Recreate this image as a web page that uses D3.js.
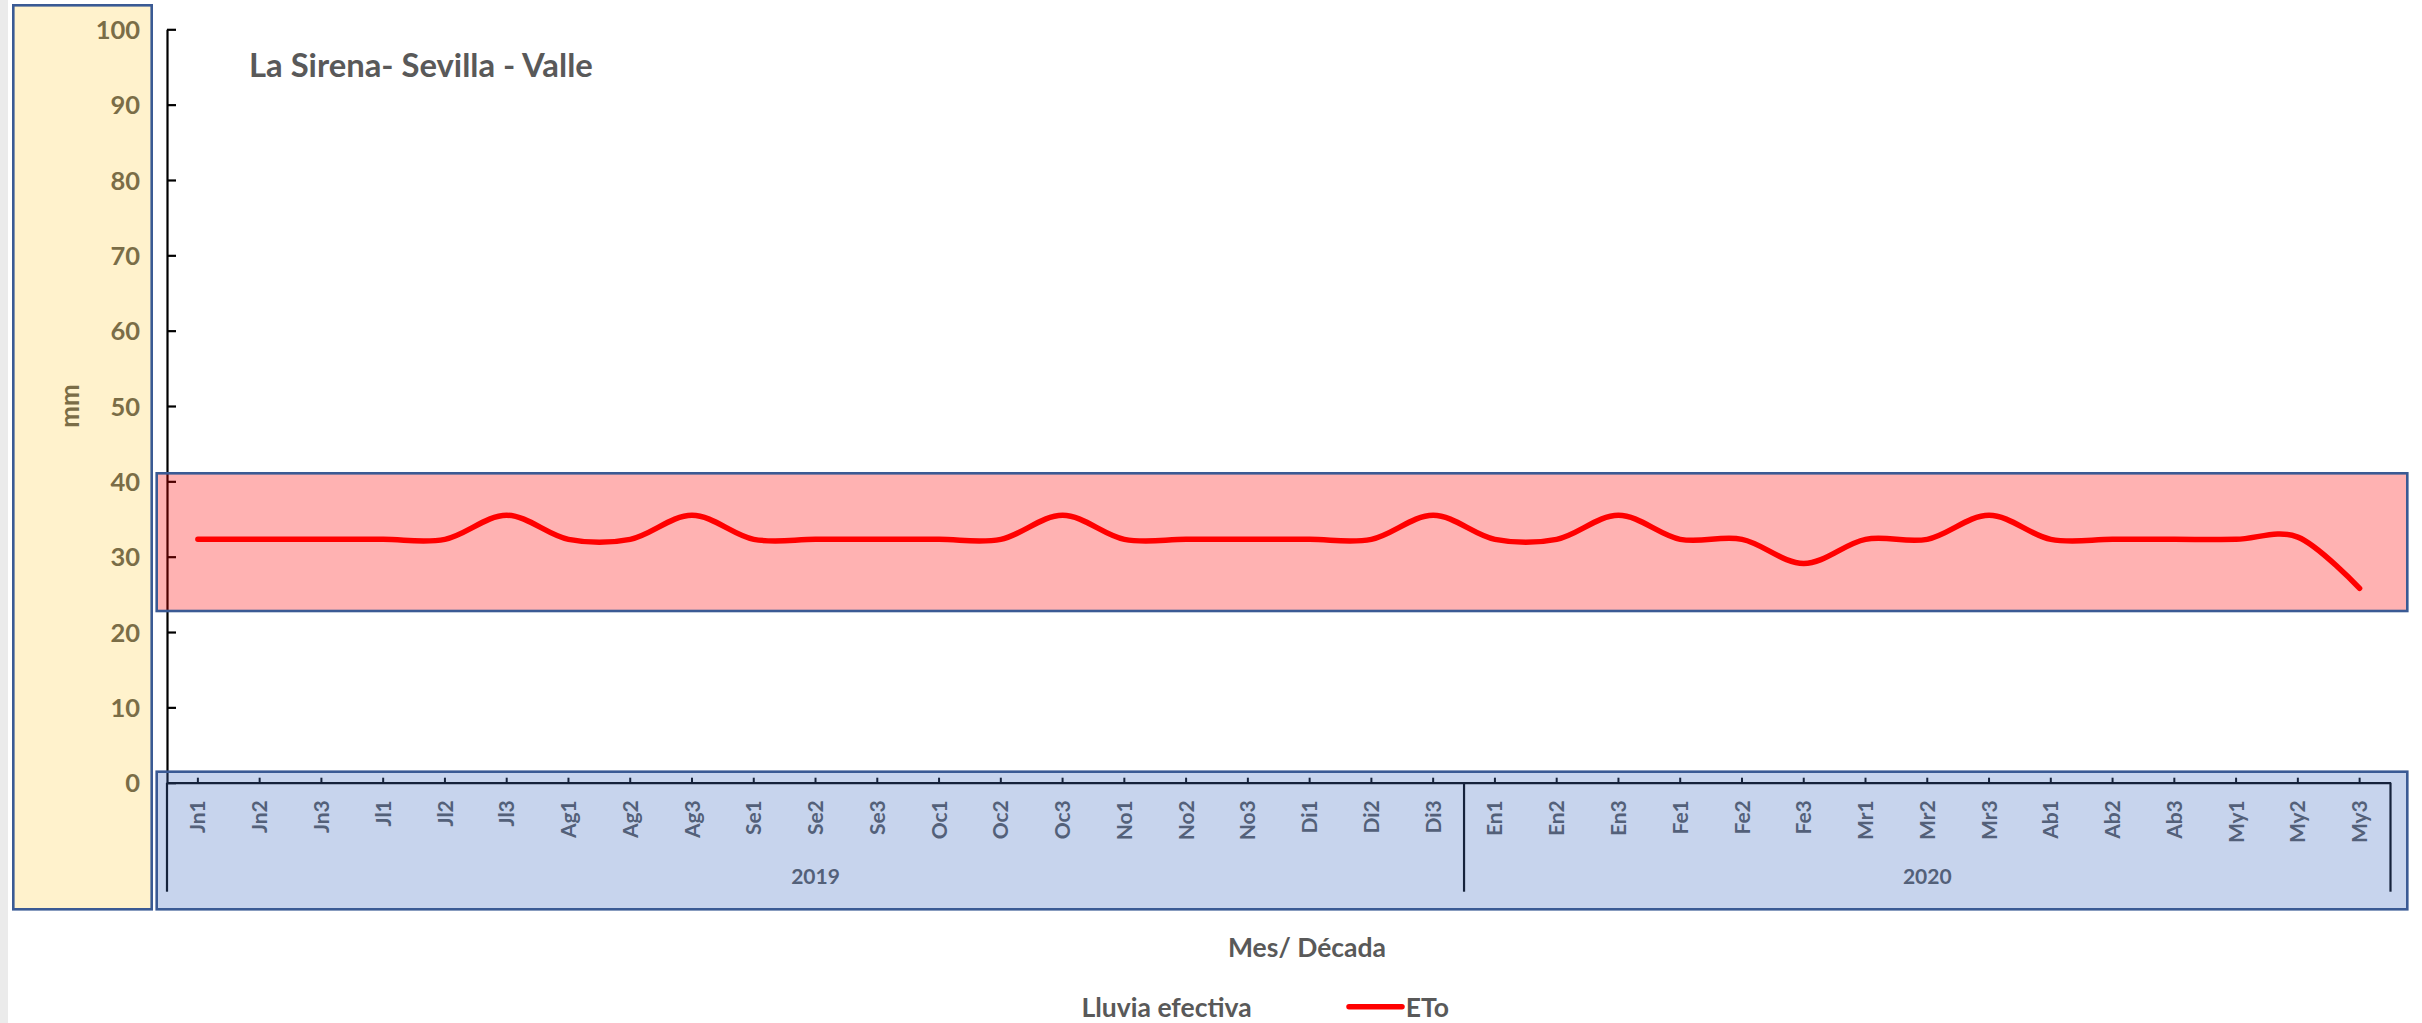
<!DOCTYPE html>
<html>
<head>
<meta charset="utf-8">
<script src="https://cdn.jsdelivr.net/npm/d3@7"></script>
<style>
  html, body { margin: 0; padding: 0; background: #ffffff; }
  svg { display: block; }
  text { font-family: Lato, "Open Sans", sans-serif; font-weight: 700; }
</style>
</head>
<body>
<svg id="chart" width="2422" height="1023"></svg>
<script>
// Decades (month code + decade number) on the category axis
const categories = ["Jn1","Jn2","Jn3","Jl1","Jl2","Jl3","Ag1","Ag2","Ag3","Se1","Se2","Se3",
  "Oc1","Oc2","Oc3","No1","No2","No3","Di1","Di2","Di3",
  "En1","En2","En3","Fe1","Fe2","Fe3","Mr1","Mr2","Mr3","Ab1","Ab2","Ab3","My1","My2","My3"];

// Year groups of the second category level
const years = ["2019", "2020"];
const yearFirst = ["Jn1", "En1"];
const yearLast = ["Di3", "My3"];

// Reference evapotranspiration per decade (mm)
const eto = [32.3,32.3,32.3,32.3,32.3,35.5,32.3,32.3,35.5,32.3,32.3,32.3,
  32.3,32.3,35.5,32.3,32.3,32.3,32.3,32.3,35.5,
  32.3,32.3,35.5,32.3,32.3,29.1,32.3,32.3,35.5,32.3,32.3,32.3,32.3,32.6,25.8];

const yTicks = [0,10,20,30,40,50,60,70,80,90,100];

const title = "La Sirena- Sevilla - Valle";
const yTitle = "mm";
const xTitle = "Mes/ Década";
const legendLabels = ["Lluvia efectiva", "ETo"];

// ---- layout ----
const svg = d3.select("#chart");
const textColor = "#595959";
const plot = { left: 167, right: 2390.5, top: 29.3, bottom: 782.7, catBottom: 891.7 };

const x = d3.scaleBand().domain(categories).range([plot.left, plot.right]).padding(0);
const y = d3.scaleLinear().domain([0, 100]).range([plot.bottom, plot.top]);
const cx = c => x(c) + x.bandwidth() / 2;

// page strip at the left edge
svg.append("rect").attr("x", 0).attr("y", 0).attr("width", 8).attr("height", 1023).attr("fill", "#ebebeb");

// ---- value axis ----
const yAxis = svg.append("g")
  .attr("transform", `translate(${plot.left},0)`)
  .call(d3.axisLeft(y).tickValues(yTicks).tickSizeInner(-9).tickSizeOuter(0).tickPadding(27));
yAxis.select(".domain").attr("stroke", "#000").attr("stroke-width", 2.2);
yAxis.selectAll(".tick line").attr("stroke", "#000").attr("stroke-width", 2.2);
yAxis.selectAll(".tick text")
  .attr("fill", textColor).attr("font-size", 25.5).attr("font-family", "Lato").attr("font-weight", 700)
  .attr("dy", "0.36em");

// value-axis title
svg.append("text")
  .attr("transform", `translate(79,${(plot.top + plot.bottom) / 2}) rotate(-90)`)
  .attr("text-anchor", "middle")
  .attr("fill", textColor).attr("font-size", 26)
  .text(yTitle);

// ---- category axis ----
const xAxis = svg.append("g")
  .attr("transform", `translate(0,${plot.bottom})`)
  .call(d3.axisBottom(x).tickSizeInner(-5).tickSizeOuter(0).tickPadding(0));
xAxis.select(".domain").attr("stroke", "#000").attr("stroke-width", 2.2);
xAxis.selectAll(".tick line").attr("stroke", "#000").attr("stroke-width", 2);
xAxis.selectAll(".tick text")
  .attr("transform", "rotate(-90)")
  .attr("text-anchor", "end")
  .attr("x", -17.5).attr("y", 0).attr("dy", "0.36em")
  .attr("fill", textColor).attr("font-size", 21).attr("font-family", "Lato").attr("font-weight", 700);

// group separators of the year level
const sepX = [plot.left].concat(yearLast.map(c => x(c) + x.bandwidth()));
svg.append("g").selectAll("line").data(sepX).join("line")
  .attr("x1", d => d).attr("x2", d => d)
  .attr("y1", plot.bottom).attr("y2", plot.catBottom)
  .attr("stroke", "#000").attr("stroke-width", 2.2);

// year labels
svg.append("g").selectAll("text").data(years).join("text")
  .attr("x", (d, i) => (x(yearFirst[i]) + x(yearLast[i]) + x.bandwidth()) / 2)
  .attr("y", 884)
  .attr("text-anchor", "middle")
  .attr("fill", textColor).attr("font-size", 21)
  .text(d => d);

// category-axis title
svg.append("text")
  .attr("x", 1307).attr("y", 957)
  .attr("text-anchor", "middle")
  .attr("fill", textColor).attr("font-size", 26.5)
  .text(xTitle);

// chart title
svg.append("text")
  .attr("x", 249).attr("y", 77)
  .attr("fill", textColor).attr("font-size", 32.8)
  .text(title);

// ---- highlight boxes ----
const boxStroke = "#3a5a94";
// ETo range band
svg.append("rect")
  .attr("x", 156.7).attr("y", 473.3).attr("width", 2407.3 - 156.7).attr("height", 611 - 473.3)
  .attr("fill", "rgba(255,0,0,0.3)").attr("stroke", boxStroke).attr("stroke-width", 2.6);
// category axis box
svg.append("rect")
  .attr("x", 156.7).attr("y", 771.7).attr("width", 2407.3 - 156.7).attr("height", 909.3 - 771.7)
  .attr("fill", "rgba(68,114,196,0.3)").attr("stroke", boxStroke).attr("stroke-width", 2.6);
// value axis box
svg.append("rect")
  .attr("x", 13.3).attr("y", 5.3).attr("width", 151.7 - 13.3).attr("height", 909.3 - 5.3)
  .attr("fill", "rgba(255,192,0,0.2)").attr("stroke", boxStroke).attr("stroke-width", 2.6);

// ---- ETo series ----
const line = d3.line()
  .x((d, i) => cx(categories[i]))
  .y(d => y(d))
  .curve(d3.curveCatmullRom.alpha(0));
svg.append("path")
  .datum(eto)
  .attr("d", line)
  .attr("fill", "none").attr("stroke", "#ff0000").attr("stroke-width", 5.5)
  .attr("stroke-linecap", "round").attr("stroke-linejoin", "round");

// ---- legend ----
svg.append("text")
  .attr("x", 1081.5).attr("y", 1016.5)
  .attr("fill", textColor).attr("font-size", 26.5)
  .text(legendLabels[0]);
svg.append("line")
  .attr("x1", 1349).attr("x2", 1402).attr("y1", 1006.7).attr("y2", 1006.7)
  .attr("stroke", "#ff0000").attr("stroke-width", 5.5).attr("stroke-linecap", "round");
svg.append("text")
  .attr("x", 1405.7).attr("y", 1016.5)
  .attr("fill", textColor).attr("font-size", 26.5)
  .text(legendLabels[1]);
</script>
</body>
</html>
